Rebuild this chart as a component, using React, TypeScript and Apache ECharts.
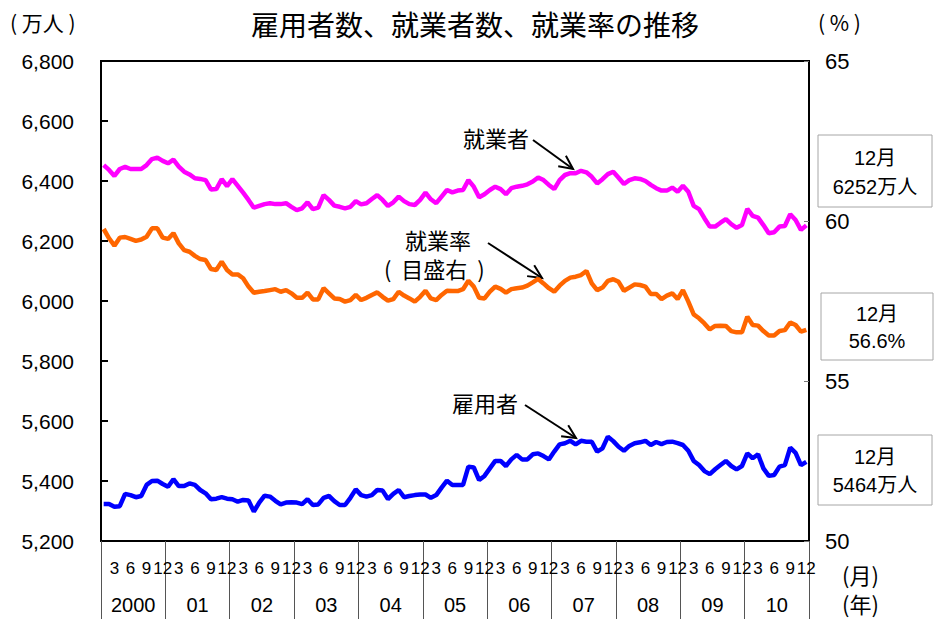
import React, { useEffect, useRef } from "react";
import * as echarts from "echarts";

const years = ["2000", "01", "02", "03", "04", "05", "06", "07", "08", "09", "10"];
const months = ["1", "2", "3", "4", "5", "6", "7", "8", "9", "10", "11", "12"];
const shownMonths = ["3", "6", "9", "12"];

// 就業者 (万人)
const employed = [
  6453, 6437, 6417, 6440, 6447, 6440, 6440, 6440, 6453, 6473, 6478, 6467,
  6459, 6471, 6448, 6431, 6422, 6409, 6407, 6403, 6372, 6373, 6406, 6383,
  6406, 6384, 6361, 6337, 6311, 6317, 6323, 6326, 6323, 6323, 6326, 6314,
  6303, 6309, 6329, 6306, 6311, 6353, 6337, 6318, 6314, 6309, 6314, 6333,
  6322, 6326, 6340, 6353, 6337, 6317, 6329, 6348, 6333, 6323, 6320, 6337,
  6361, 6339, 6326, 6348, 6370, 6362, 6368, 6370, 6403, 6381, 6346, 6356,
  6370, 6381, 6373, 6356, 6376, 6381, 6384, 6389, 6398, 6412, 6403, 6387,
  6373, 6403, 6420, 6426, 6426, 6434, 6429, 6414, 6392, 6406, 6423, 6431,
  6411, 6390, 6403, 6409, 6407, 6400, 6387, 6376, 6368, 6368, 6378, 6364,
  6384, 6364, 6317, 6306, 6276, 6248, 6248, 6261, 6273, 6256, 6244, 6253,
  6307, 6284, 6278, 6253, 6226, 6229, 6248, 6250, 6289, 6270, 6237, 6252,
];

// 就業率 (%)
const rate = [
  59.75, 59.46, 59.23, 59.48, 59.5, 59.44, 59.38, 59.42, 59.51, 59.77, 59.77, 59.48,
  59.44, 59.62, 59.3, 59.09, 59.04, 58.91, 58.81, 58.78, 58.5, 58.47, 58.73, 58.47,
  58.33, 58.33, 58.21, 57.95, 57.76, 57.79, 57.81, 57.84, 57.87, 57.79, 57.84, 57.74,
  57.6, 57.6, 57.76, 57.55, 57.55, 57.9, 57.74, 57.58, 57.56, 57.48, 57.53, 57.69,
  57.53, 57.6, 57.69, 57.77, 57.63, 57.51, 57.56, 57.79, 57.67, 57.58, 57.48, 57.63,
  57.82, 57.58, 57.53, 57.69, 57.82, 57.81, 57.81, 57.87, 58.13, 57.95, 57.6, 57.58,
  57.79, 57.95, 57.88, 57.76, 57.87, 57.9, 57.92, 57.98, 58.08, 58.19, 58.05, 57.9,
  57.79, 57.98, 58.13, 58.23, 58.26, 58.31, 58.44, 58.05, 57.84, 57.92, 58.13, 58.18,
  58.1, 57.82, 57.92, 58.02, 58.0, 57.95, 57.72, 57.72, 57.56, 57.67, 57.74, 57.56,
  57.84, 57.48, 57.08, 56.96, 56.8, 56.61, 56.72, 56.73, 56.72, 56.56, 56.52, 56.52,
  57.01, 56.75, 56.73, 56.56, 56.42, 56.42, 56.56, 56.59, 56.83, 56.75, 56.54, 56.6,
];

// 雇用者 (万人)
const employees = [
  5323, 5323, 5314, 5316, 5357, 5353, 5346, 5350, 5387, 5400, 5401, 5390,
  5381, 5406, 5383, 5383, 5392, 5387, 5370, 5359, 5339, 5341, 5346, 5341,
  5339, 5331, 5337, 5335, 5298, 5328, 5351, 5348, 5334, 5322, 5328, 5329,
  5328, 5323, 5339, 5320, 5322, 5344, 5350, 5333, 5320, 5320, 5344, 5372,
  5353, 5348, 5353, 5370, 5368, 5340, 5357, 5370, 5346, 5350, 5353, 5355,
  5355, 5344, 5353, 5378, 5401, 5387, 5387, 5387, 5448, 5445, 5403, 5417,
  5442, 5467, 5467, 5450, 5472, 5487, 5472, 5472, 5489, 5492, 5483, 5472,
  5498, 5522, 5526, 5534, 5522, 5534, 5531, 5531, 5498, 5509, 5548, 5533,
  5514, 5501, 5517, 5526, 5529, 5534, 5520, 5530, 5523, 5530, 5531, 5526,
  5520, 5501, 5467, 5453, 5433, 5423, 5439, 5453, 5467, 5450, 5439, 5450,
  5492, 5476, 5489, 5442, 5417, 5420, 5448, 5453, 5511, 5494, 5453, 5464,
];

const categories = years.flatMap((y) => months.map((m) => `${y}-${m}`));

const FONT = "'Liberation Sans', Arial, 'Noto Sans CJK JP', sans-serif";
const JFONT = "'Noto Sans CJK JP', 'Liberation Sans', sans-serif";

function arrow(x1: number, y1: number, x2: number, y2: number) {
  const ang = Math.atan2(y2 - y1, x2 - x1);
  const L = 15;
  const spread = 0.45;
  const a1 = [x2 - L * Math.cos(ang - spread), y2 - L * Math.sin(ang - spread)];
  const a2 = [x2 - L * Math.cos(ang + spread), y2 - L * Math.sin(ang + spread)];
  return [
    { type: "line", shape: { x1, y1, x2, y2 }, style: { stroke: "#000", lineWidth: 2 } },
    {
      type: "polyline",
      shape: { points: [a1, [x2, y2], a2] },
      style: { stroke: "#000", lineWidth: 2, fill: null },
    },
  ];
}

function box(x: number, y: number, w: number, h: number, l1: string, l2: string) {
  return [
    { type: "rect", shape: { x, y, width: w, height: h }, style: { fill: "#fff", stroke: "#a6a6a6", lineWidth: 1 } },
    {
      type: "text",
      x: x + w / 2,
      y: y + h * 0.32,
      style: { text: l1, font: `20px ${FONT}`, fill: "#000", textAlign: "center", textVerticalAlign: "middle" },
    },
    {
      type: "text",
      x: x + w / 2,
      y: y + h * 0.72,
      style: { text: l2, font: `20px ${FONT}`, fill: "#000", textAlign: "center", textVerticalAlign: "middle" },
    },
  ];
}

function txt(x: number, y: number, s: string, size = 19, align = "left") {
  return {
    type: "text",
    x,
    y,
    style: { text: s, font: `${size}px ${JFONT}`, fill: "#000", textAlign: align, textVerticalAlign: "middle" },
  };
}

export default function App() {
  const ref = useRef<HTMLDivElement>(null);
  useEffect(() => {
    const chart = echarts.init(ref.current!, null, { renderer: "svg" });
    chart.setOption({
      animation: false,
      backgroundColor: "#fff",
      title: {
        text: "雇用者数、就業者数、就業率の推移",
        left: 470,
        textAlign: "center",
        top: 5,
        textStyle: { fontFamily: JFONT, fontSize: 28, fontWeight: "normal", color: "#000" },
      },
      grid: {
        left: 101,
        top: 61,
        width: 708,
        height: 480,
        show: true,
        borderColor: "#000",
        borderWidth: 2,
        backgroundColor: "transparent",
      },
      xAxis: [
        {
          type: "category",
          data: categories,
          boundaryGap: true,
          position: "bottom",
          axisLine: { show: true, lineStyle: { color: "#000", width: 2 } },
          axisTick: { show: false },
          axisLabel: {
            interval: 0,
            formatter: (v: string) => {
              const m = v.split("-")[1];
              return shownMonths.includes(m) ? m : "";
            },
            margin: 19,
            fontSize: 17,
            fontFamily: FONT,
            color: "#000",
          },
          splitLine: { show: false },
        },
        {
          type: "category",
          data: years,
          boundaryGap: true,
          position: "bottom",
          axisLine: { show: false },
          axisTick: { show: true, interval: 0, length: 80, lineStyle: { color: "#555", width: 1 } },
          axisLabel: { interval: 0, margin: 54, fontSize: 20, fontFamily: FONT, color: "#000" },
          splitLine: { show: false },
        },
      ],
      yAxis: [
        {
          type: "value",
          min: 5200,
          max: 6800,
          interval: 200,
          position: "left",
          axisLine: { show: true, lineStyle: { color: "#000", width: 2 } },
          axisTick: { show: true, inside: true, length: 7, lineStyle: { color: "#000", width: 2 } },
          axisLabel: {
            margin: 27,
            fontSize: 21,
            fontFamily: FONT,
            color: "#000",
            formatter: (v: number) => v.toLocaleString("en-US"),
          },
          splitLine: { show: false },
        },
        {
          type: "value",
          min: 50,
          max: 65,
          interval: 5,
          position: "right",
          axisLine: { show: true, lineStyle: { color: "#000", width: 2 } },
          axisTick: { show: true, inside: true, length: 5, lineStyle: { color: "#777", width: 1 } },
          axisLabel: { margin: 16, fontSize: 22, fontFamily: FONT, color: "#000" },
          splitLine: { show: false },
        },
      ],
      series: [
        {
          name: "就業者",
          type: "line",
          data: employed,
          xAxisIndex: 0,
          yAxisIndex: 0,
          symbol: "none",
          lineStyle: { color: "#FF00FF", width: 4.5 },
        },
        {
          name: "就業率",
          type: "line",
          data: rate,
          xAxisIndex: 0,
          yAxisIndex: 1,
          symbol: "none",
          lineStyle: { color: "#FF6600", width: 4.5 },
        },
        {
          name: "雇用者",
          type: "line",
          data: employees,
          xAxisIndex: 0,
          yAxisIndex: 0,
          symbol: "none",
          lineStyle: { color: "#0000FF", width: 4.5 },
        },
      ],
      graphic: [
        txt(10, 22, "( 万人 )", 21),
        txt(818, 22, "( % )", 21),
        txt(842, 574, "(月)", 22),
        txt(842, 603, "(年)", 22),
        txt(463, 137, "就業者", 22),
        txt(405, 239, "就業率", 22),
        txt(384, 268, "(  目盛右  )", 22),
        txt(452, 402, "雇用者", 22),
        ...arrow(533, 140, 573, 169),
        ...arrow(488, 243, 542, 278),
        ...arrow(525, 405, 576, 438),
        ...box(818, 135, 114, 72, "12月", "6252万人"),
        ...box(821, 293, 112, 67, "12月", "56.6%"),
        ...box(818, 435, 114, 70, "12月", "5464万人"),
      ],
    });
    return () => chart.dispose();
  }, []);
  return (
    <div
      ref={ref}
      style={{ position: "absolute", left: 0, top: 0, width: 934, height: 619 }}
    />
  );
}
